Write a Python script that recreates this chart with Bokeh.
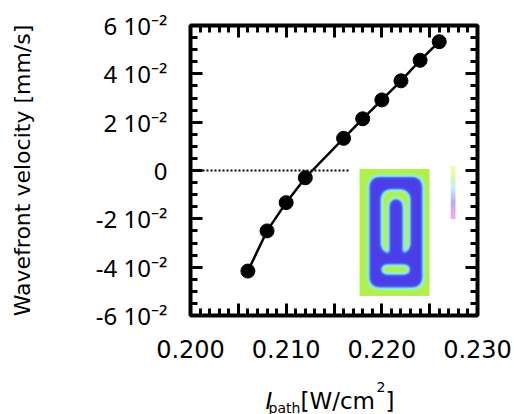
import numpy as np
from bokeh.plotting import figure
from bokeh.layouts import column
from bokeh.models import FixedTicker, LinearAxis, Range1d, Label, CustomJSTickFormatter
from bokeh.embed import file_html
from bokeh.resources import INLINE

# ---- data ----
intensity = [0.206, 0.208, 0.210, 0.212, 0.216, 0.218, 0.220, 0.222, 0.224, 0.226]
velocity = [-0.0416, -0.0250, -0.0133, -0.0030, 0.0133, 0.0214, 0.0292, 0.0371, 0.0456, 0.0533]
zero_line_x = [0.200, 0.2167]
zero_line_y = [0.0, 0.0]

x_major = [0.200, 0.205, 0.210, 0.215, 0.220, 0.225, 0.230]
x_labels = ["0.200", "", "0.210", "", "0.220", "", "0.230"]
x_minor = [round(0.200 + 0.001 * i, 3) for i in range(31)]
y_major = [-0.06, -0.04, -0.02, 0.0, 0.02, 0.04, 0.06]
y_labels = ["-6 10\u207b\u00b2", "-4 10\u207b\u00b2", "-2 10\u207b\u00b2", "0",
            "2 10\u207b\u00b2", "4 10\u207b\u00b2", "6 10\u207b\u00b2"]
y_minor = [round(-0.06 + 0.005 * i, 3) for i in range(25)]

FONT = "DejaVu Sans"
YFONT = "Noto Sans"

p = figure(width=514, height=370, output_backend="svg", toolbar_location=None,
           x_range=Range1d(0.200, 0.230), y_range=Range1d(-0.06, 0.06),
           x_axis_location=None, y_axis_location=None,
           min_border_left=190, min_border_right=37, min_border_top=25, min_border_bottom=55)
p.grid.visible = False
p.outline_line_color = "black"
p.outline_line_width = 4
p.background_fill_color = "white"
p.border_fill_color = "white"

def make_axis(ticks, minor, labels, show):
    ax = LinearAxis(ticker=FixedTicker(ticks=ticks, minor_ticks=minor))
    ax.axis_line_color = None
    ax.major_tick_in = 12
    ax.major_tick_out = 0
    ax.minor_tick_in = 7
    ax.minor_tick_out = 0
    ax.major_tick_line_width = 3
    ax.minor_tick_line_width = 3
    ax.major_tick_line_color = "black"
    ax.minor_tick_line_color = "black"
    if show:
        ax.major_label_overrides = {t: l for t, l in zip(ticks, labels)}
        ax.major_label_text_font = FONT
        ax.major_label_text_color = "black"
    else:
        ax.formatter = CustomJSTickFormatter(code="return ''")
    return ax

xb = make_axis(x_major, x_minor, x_labels, True)
xb.major_label_text_font_size = "24px"
xb.major_label_standoff = 24
p.add_layout(xb, "below")
xt = make_axis(x_major, x_minor, x_labels, False)
p.add_layout(xt, "above")

yl = make_axis(y_major, y_minor, y_labels, True)
yl.major_label_text_font = YFONT
yl.major_label_text_font_size = "24px"
yl.major_label_standoff = 23
yl.axis_label = "Wavefront velocity [mm/s]"
yl.axis_label_text_font = FONT
yl.axis_label_text_font_size = "22px"
yl.axis_label_text_font_style = "normal"
yl.axis_label_text_color = "black"
yl.axis_label_standoff = 58
p.add_layout(yl, "left")
yr = make_axis(y_major, y_minor, y_labels, False)
p.add_layout(yr, "right")

# ---- inset (simulated field picture) ----
W, H = 140, 254
gx = (np.arange(W) + 0.5) / W * 70
gy = (np.arange(H) + 0.5) / H * 127
X, Y = np.meshgrid(gx, gy)

def rbox(x0, x1, y0, y1, r):
    cx, cy = (x0 + x1) / 2, (y0 + y1) / 2
    hx, hy = max((x1 - x0) / 2 - r, 0), max((y1 - y0) / 2 - r, 0)
    dx = np.maximum(np.abs(X - cx) - hx, 0)
    dy = np.maximum(np.abs(Y - cy) - hy, 0)
    return np.hypot(dx, dy) <= r

outer = rbox(10.0, 62.0, 9, 118, 9)
arch = rbox(20.5, 51.0, 20.5, 85, 10)
bar = rbox(30.5, 42.0, 31, 96, 6)
pill = rbox(21.0, 50.5, 95, 106, 5.5)
blue = outer & ~(arch & ~bar) & ~pill

sig = 3.8
k = np.arange(-14, 15)
ker = np.exp(-0.5 * (k / sig) ** 2)
ker /= ker.sum()
f = blue.astype(float)
f = np.pad(f, 14, mode="edge")
f = np.apply_along_axis(lambda r: np.convolve(r, ker, mode="same"), 1, f)
f = np.apply_along_axis(lambda c: np.convolve(c, ker, mode="same"), 0, f)
s = f[14:-14, 14:-14]

stops = [0.0, 0.06, 0.2, 0.36, 0.5, 0.68, 1.0]
cols = [(176, 240, 74), (166, 244, 150), (138, 240, 215), (118, 200, 245),
        (90, 130, 245), (76, 76, 238), (74, 62, 232)]
rgba = np.zeros((H, W, 4), dtype=np.uint8)
for ch in range(3):
    rgba[..., ch] = np.interp(s, stops, [c[ch] for c in cols]).astype(np.uint8)
rgba[..., 3] = 255
img = rgba[::-1].copy().view(dtype=np.uint32).reshape(H, W)
p.image_rgba(image=[img], x=0.21767, y=-0.0519, dw=0.00732, dh=0.0525)

# small colour bar of the inset
cb = [(248, 240, 120), (215, 245, 120), (170, 240, 150), (150, 235, 235),
      (150, 160, 245), (140, 110, 235), (190, 110, 225), (230, 120, 210)]
cbn = 40
t = np.linspace(0, 1, cbn)
cbimg = np.zeros((cbn, 1, 4), dtype=np.uint8)
tp = np.linspace(0, 1, len(cb))
for ch in range(3):
    cbimg[:, 0, ch] = np.interp(t, tp, [c[ch] for c in cb]).astype(np.uint8)
cbimg[..., 3] = 150
cbimg = cbimg[::-1].copy().view(dtype=np.uint32).reshape(cbn, 1)
p.image_rgba(image=[cbimg], x=0.2272, y=-0.0201, dw=0.0005, dh=0.0219)

# ---- data ----
p.line(zero_line_x, zero_line_y, line_color="black", line_width=2, line_dash="2 2")
p.line(intensity, velocity, line_color="black", line_width=2.5)
p.scatter(intensity, velocity, size=14, fill_color="black", line_color="black")

# ---- x axis label strip: I_path [W/cm^2] (coordinates = page pixels) ----
q = figure(width=514, height=44, output_backend="svg", toolbar_location=None,
           x_range=Range1d(190, 477), y_range=Range1d(0, 44),
           x_axis_location=None, y_axis_location=None,
           min_border_left=190, min_border_right=37, min_border_top=0, min_border_bottom=0)
q.grid.visible = False
q.outline_line_color = None
q.background_fill_color = "white"
q.border_fill_color = "white"

def lab(txt, x, y, size, style="normal"):
    q.add_layout(Label(x=x, y=y, text=txt, text_font=FONT, text_font_size=size,
                       text_font_style=style, text_color="black",
                       text_baseline="alphabetic", text_align="left"))

lab("I", 265, 14, "23px", "italic")
lab("path", 268, 7, "14px")
lab("[W/cm", 300, 14, "23px")
lab("2", 376, 28, "14px")
lab("]", 385, 14, "23px")

layout = column(p, q, spacing=0)
open("out.html", "w").write(file_html(layout, INLINE))
